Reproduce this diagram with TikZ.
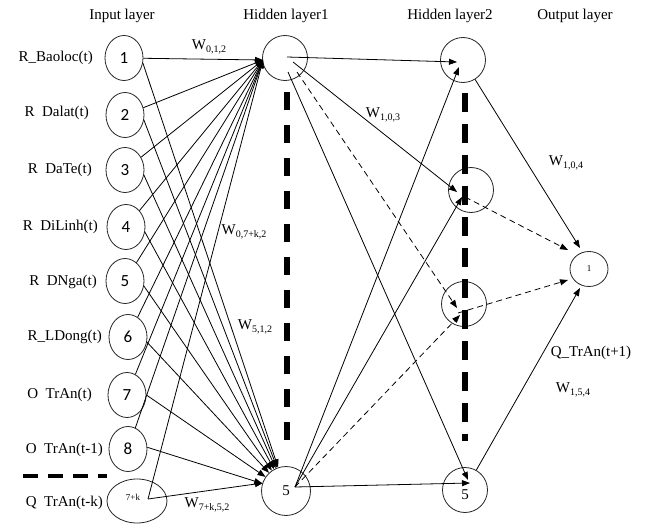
\documentclass[tikz,border=0pt]{standalone}
\usepackage{fontspec}
\setmainfont{Liberation Serif}
\newfontfamily\digitfont{Carlito}
\usetikzlibrary{shapes.geometric,arrows.meta}
\newcommand\wt[1]{W\raisebox{-3pt}{\fontsize{10}{12}\selectfont #1}}
\tikzset{
  unit/.style={draw=black!85, line width=0.8pt, ellipse, inner sep=0pt},
  inp/.style={unit, minimum width=38pt, minimum height=45pt, font=\digitfont\fontsize{17}{17}\selectfont},
  hid/.style={unit, minimum width=45pt, minimum height=45pt, font=\fontsize{15}{15}\selectfont},
  lbl/.style={font=\fontsize{15}{18}\selectfont, inner sep=0pt},
  conn/.style={line width=0.8pt, -{Triangle[length=8pt,width=6pt]}},
  dconn/.style={conn, dash pattern=on 6pt off 4pt},
  sepv/.style={line width=5.5pt},
}
\begin{document}
\begin{tikzpicture}[x=1pt,y=-1pt]
\useasboundingbox (0,0) rectangle (649,527);
% titles
\node[lbl] (t1) at (122,16) {Input layer};
\node[lbl] (t2) at (286,16) {Hidden layer1};
\node[lbl] (t3) at (450,16) {Hidden layer2};
\node[lbl] (t4) at (575,16) {Output layer};
% input nodes
\node[inp] (in1) at (124,58) {1};
\node[inp] (in2) at (125,115) {2};
\node[inp] (in3) at (125,170) {3};
\node[inp] (in4) at (126,227) {4};
\node[inp] (in5) at (125,281) {5};
\node[inp] (in6) at (128,337) {6};
\node[inp] (in7) at (127,395) {7};
\node[inp] (in8) at (128,449) {8};
\node[unit, minimum width=60pt, minimum height=44pt] (ink) at (137,501) {};
\node[inner sep=0pt, font=\fontsize{9}{9}\selectfont] (inkt) at (133,497) {7+k};
% input labels
\node[lbl, anchor=east] (l1) at (93,58) {R\_Baoloc(t)};
\node[lbl, anchor=east] (l2) at (89,113) {R~~Dalat(t)};
\node[lbl, anchor=east] (l3) at (92,170) {R~~DaTe(t)};
\node[lbl, anchor=east] (l4) at (98,227) {R~~DiLinh(t)};
\node[lbl, anchor=east] (l5) at (97,282) {R~~DNga(t)};
\node[lbl, anchor=east] (l6) at (102,337) {R\_LDong(t)};
\node[lbl, anchor=east] (l7) at (92,395) {O~~TrAn(t)};
\node[lbl, anchor=east] (l8) at (103,450) {O~~TrAn(t-1)};
\node[lbl, anchor=east] (l9) at (103,503) {Q~~TrAn(t-k)};
% hidden / output nodes
\node[hid] (h1t) at (285,58) {};
\node[hid, minimum width=49pt, minimum height=49pt] (h1b) at (286,491) {5};
\node[hid] (h2a) at (463,60) {};
\node[hid] (h2b) at (471,190) {};
\node[hid] (h2c) at (464,304) {};
\node[hid] (h2d) at (465,490) {};
\node[inner sep=0pt, font=\fontsize{15}{15}\selectfont] (h2dt) at (465,495) {5};
\node[unit, minimum width=38pt, minimum height=35pt, font=\fontsize{9}{9}\selectfont] (out) at (589,269) {1};
% separators
\draw[sepv, dash pattern=on 18pt off 15pt] (287,92) -- (287,440);
\draw[sepv, dash pattern=on 19pt off 12pt] (465,93) -- (465,441);
\draw[line width=4.5pt, dash pattern=on 15pt off 10pt] (23,476) -- (107,476);
% key points
\coordinate (h1in) at (263,60);
\coordinate (h1bk) at (263,483);
\coordinate (inkc) at (148,499);
% input -> hidden1
\foreach \n in {in1,in2,in3,in4,in5,in6,in7,in8}{
  \draw[conn] (\n) -- (h1in);
}
\foreach \n in {in1,in2,in3,in4,in5,in6}{
  \draw[conn] (\n.-15) -- (h1b);
}
\draw[conn] (in7.east) -- (h1b);
\draw[conn] (in8.5) -- (h1b);
\draw[conn] (inkc) -- (h1in);
\draw[conn] (inkc) -- (h1bk);
% hidden1 -> hidden2
\coordinate (a1) at (287,57);
\coordinate (a2) at (293,62);
\coordinate (a3) at (297,72);
\coordinate (a4) at (288,72);
\coordinate (b0) at (295,487);
\coordinate (ea1) at (457,62);
\coordinate (ea2) at (459,67);
\coordinate (eb1) at (457,192);
\coordinate (eb2) at (462,197);
\coordinate (ec1) at (457,308);
\coordinate (ec2) at (460,315);
\coordinate (ed1) at (468,480);
\coordinate (ed2) at (470,483);
\draw[conn] (a1) -- (ea1);
\draw[conn] (a2) -- (eb1);
\draw[dconn] (a3) -- (ec1);
\draw[conn] (a4) -- (ed1);
\draw[conn] (b0) -- (ea2);
\draw[conn] (b0) -- (eb2);
\draw[dconn] (b0) -- (ec2);
\draw[conn] (b0) -- (ed2);
% hidden2 -> output
\coordinate (oa) at (580,248);
\coordinate (ob) at (568,250);
\coordinate (oc) at (568,280);
\coordinate (od) at (580,288);
\coordinate (sb) at (465,197);
\coordinate (sc) at (458,313);
\draw[conn] (h2a) -- (oa);
\draw[dconn] (sb) -- (ob);
\draw[dconn] (sc) -- (oc);
\draw[conn] (h2d) -- (od);
% weight labels
\node[lbl] (w1) at (209,47) {\wt{0,1,2}};
\node[lbl] (w2) at (244,232) {\wt{0,7+k,2}};
\node[lbl] (w3) at (255,327) {\wt{5,1,2}};
\node[lbl] (w4) at (207,505) {\wt{7+k,5,2}};
\node[lbl] (w5) at (383,115) {\wt{1,0,3}};
\node[lbl] (w6) at (566,163) {\wt{1,0,4}};
\node[lbl] (w7) at (591,353) {Q\_TrAn(t+1)};
\node[lbl] (w8) at (573,390) {\wt{1,5,4}};
\end{tikzpicture}
\end{document}
